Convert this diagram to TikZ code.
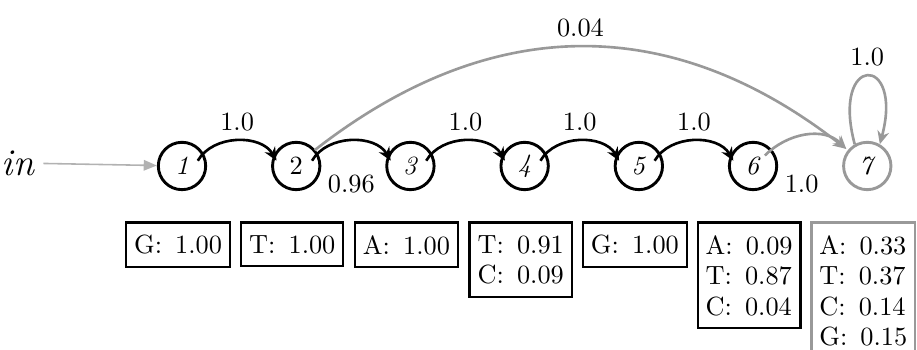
\documentclass[tikz,border=0pt]{standalone}
\usepackage{tikz}
\usetikzlibrary{positioning,arrows.meta}
\definecolor{hmm-gray}{gray}{0.6}
\definecolor{in-gray}{gray}{0.7}
\tikzset{
    state-circle/.style = {draw, circle, line width=1.1pt, minimum size=18pt, inner sep=0pt},
    emit-box/.style = {draw, rectangle, line width=0.9pt, inner xsep=3pt, inner ysep=4.8pt, align=left, font=\fontsize{10}{11.6}\selectfont, xshift=-1.5pt},
    trans-arc/.style = {line width=1pt, -{Stealth[length=5pt,width=4.5pt]}},
    trans-arc-gray/.style = {trans-arc, draw=hmm-gray},
}

\begin{document}
\begin{tikzpicture}[x=0.38pt, y=0.38pt, node distance=24.3pt]
\useasboundingbox (0,0) rectangle (917,350);

% states
\node[state-circle] (s1) at (182,184) {\textit{1}};
\node[state-circle, right=of s1] (s2) {2};
\node[state-circle, right=of s2] (s3) {\textit{3}};
\node[state-circle, right=of s3] (s4) {\textit{4}};
\node[state-circle, right=of s4] (s5) {\textit{5}};
\node[state-circle, right=of s5] (s6) {\textit{6}};
\node[state-circle, right=of s6, draw=hmm-gray] (s7) {\textit{7}};

% emission tables
\node[emit-box, below=11.5pt of s1] (e1) {G:\enspace 1.00};
\node[emit-box, below=11.5pt of s2] (e2) {T:\enspace 1.00};
\node[emit-box, below=11.5pt of s3] (e3) {A:\enspace 1.00};
\node[emit-box, below=11.5pt of s4] (e4) {T:\enspace 0.91\\C:\enspace 0.09};
\node[emit-box, below=11.5pt of s5] (e5) {G:\enspace 1.00};
\node[emit-box, below=11.5pt of s6] (e6) {A:\enspace 0.09\\T:\enspace 0.87\\C:\enspace 0.04};
\node[emit-box, below=11.5pt of s7, draw=hmm-gray] (e7) {A:\enspace 0.33\\T:\enspace 0.37\\C:\enspace 0.14\\G:\enspace 0.15};

% start
\node (in-label) at (18,187) {\Large\itshape in};
\draw[line width=0.6pt, draw=in-gray, -{Triangle[length=5pt,width=4pt]}] (in-label) -- (s1);

% transitions
\draw[trans-arc] ([xshift=6pt,yshift=2pt]s1.center) to[out=60,in=120] node[above] {1.0} ([xshift=-7.5pt,yshift=2pt]s2.center);
\draw[trans-arc] ([xshift=6pt,yshift=2pt]s2.center) to[out=60,in=120] node[below=9pt] {0.96} ([xshift=-7.5pt,yshift=2pt]s3.center);
\draw[trans-arc] ([xshift=6pt,yshift=2pt]s3.center) to[out=60,in=120] node[above] {1.0} ([xshift=-7.5pt,yshift=2pt]s4.center);
\draw[trans-arc] ([xshift=6pt,yshift=2pt]s4.center) to[out=60,in=120] node[above] {1.0} ([xshift=-7.5pt,yshift=2pt]s5.center);
\draw[trans-arc] ([xshift=6pt,yshift=2pt]s5.center) to[out=60,in=120] node[above] {1.0} ([xshift=-7.5pt,yshift=2pt]s6.center);
\draw[trans-arc-gray] ([xshift=4.5pt,yshift=4pt]s6.center) to[out=45,in=135] node[below=11.4pt, xshift=-1.5pt] {1.0} ([xshift=-8pt,yshift=6.5pt]s7.center);
\draw[trans-arc-gray] ([xshift=7pt,yshift=6pt]s2.center) to[out=38,in=142,looseness=1.07] node[above] {0.04} ([xshift=-8pt,yshift=6.5pt]s7.center);
\draw[trans-arc-gray] (s7.120) to[out=105,in=75,looseness=9.6] node[above] {1.0} (s7.60);
\end{tikzpicture}
\end{document}
